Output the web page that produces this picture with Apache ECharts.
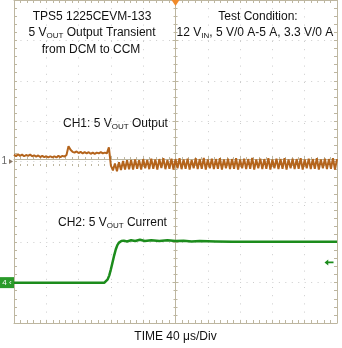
<!DOCTYPE html>
<html>
<head>
<meta charset="utf-8">
<script src="https://cdn.jsdelivr.net/npm/echarts@6/dist/echarts.min.js"></script>
<style>
html,body{margin:0;padding:0;background:#fff;}
#c{width:342px;height:348px;}
</style>
</head>
<body>
<div id="c"></div>
<script>
// Time axis: 0..400 us, 40 us/div ; vertical axis in divisions (-4..4)
const timeMin = 0, timeMax = 400, timeDiv = 40;
const divMin = -4, divMax = 4;

// CH1 (5 VOUT output, AC) sampled every 2.5 us, in divisions
const ch1Step = 2.5;
const ch1Values = [
 0.17,0.13,0.18,0.14,0.17,0.13,0.16,0.14,0.17,0.13,
 0.15,0.12,0.15,0.11,0.14,0.11,0.13,0.10,0.13,0.10,
 0.13,0.10,0.14,0.11,0.14,0.12,0.16,0.38,0.29,0.24,
 0.22,0.25,0.21,0.24,0.20,0.23,0.20,0.23,0.19,0.22,
 0.19,0.22,0.20,0.23,0.20,0.22,0.20,0.35,-0.10,-0.22,
 -0.05,-0.24,-0.02,-0.21,0.01,-0.20,0.03,-0.19,0.04,-0.20,
 0.05,-0.18,0.03,-0.20,0.06,-0.17,0.04,-0.19,0.07,-0.18,
 0.05,-0.20,0.06,-0.16,0.08,-0.19,0.04,-0.18,0.07,-0.20,
 0.06,-0.17,0.08,-0.19,0.05,-0.18,0.07,-0.20,0.04,-0.17,
 0.08,-0.19,0.06,-0.18,0.09,-0.20,0.05,-0.17,0.07,-0.19,
 0.06,-0.18,0.08,-0.20,0.05,-0.17,0.07,-0.19,0.06,-0.18,
 0.08,-0.20,0.05,-0.17,0.07,-0.19,0.06,-0.18,0.09,-0.20,
 0.05,-0.17,0.07,-0.19,0.06,-0.18,0.08,-0.20,0.05,-0.17,
 0.07,-0.19,0.06,-0.18,0.08,-0.20,0.05,-0.17,0.07,-0.19,
 0.06,-0.18,0.08,-0.20,0.05,-0.17,0.07,-0.19,0.06,-0.18,
 0.08,-0.20,0.05,-0.17,0.07,-0.19,0.06,-0.18,0.08,-0.20,
 0.06
];

// CH2 (5 VOUT current)
const ch2Time = [0,40,80,112,114,116,118,120,122,124,126,128,130,133,136,140,145,150,156,162,170,180,190,200,210,220,230,250,270,400];
const ch2Values = [-3.0,-3.0,-3.0,-3.0,-2.98,-2.92,-2.82,-2.67,-2.5,-2.33,-2.18,-2.07,-2.01,-1.97,-1.96,-1.98,-1.95,-1.97,-1.94,-1.97,-1.95,-1.97,-1.95,-1.97,-1.96,-1.98,-1.97,-1.98,-1.99,-1.99];

// reference markers
const ch1Ground = 0, ch2Ground = -3, ch2TrigLevel = -2.5, triggerTime = 200;

const frame = '#bdb6a0';
const gridDot = '#cccccc';
const c1 = '#b4641c';
const c2 = '#1c8c1c';
const font = '"Liberation Sans", Arial, sans-serif';

const ch1Data = ch1Values.map((v, i) => [i * ch1Step, v]);
const ch2Data = ch2Time.map((t, i) => [t, ch2Values[i]]);

function xAx(extra) {
  return Object.assign({
    type: 'value', min: timeMin, max: timeMax, interval: timeDiv,
    axisLabel: { show: false },
    axisLine: { show: true, onZero: false, lineStyle: { color: frame, width: 1 } },
    axisTick: { show: true, inside: true, length: 3, lineStyle: { color: frame } },
    minorTick: { show: true, splitNumber: 5, length: 3, lineStyle: { color: frame } },
    splitLine: { show: false }
  }, extra);
}
function yAx(extra) {
  return Object.assign({
    type: 'value', min: divMin, max: divMax, interval: 1,
    axisLabel: { show: false },
    axisLine: { show: true, onZero: false, lineStyle: { color: frame, width: 1 } },
    axisTick: { show: true, inside: true, length: 3, lineStyle: { color: frame } },
    minorTick: { show: true, splitNumber: 5, length: 3, lineStyle: { color: frame } },
    splitLine: { show: false }
  }, extra);
}

const chart = echarts.init(document.getElementById('c'), null, { renderer: 'canvas' });
chart.setOption({
  animation: false,
  backgroundColor: '#fff',
  grid: { left: 14, top: 0, width: 323, height: 328, containLabel: false },
  xAxis: [
    xAx({ position: 'bottom',
      name: 'TIME 40 μs/Div', nameLocation: 'middle', nameGap: 8,
      nameTextStyle: { color: '#111', fontSize: 12, fontFamily: font },
      splitLine: { show: true, lineStyle: { color: gridDot, type: [1, 7.2], width: 1 } } }),
    xAx({ position: 'top' }),
    xAx({ position: 'bottom', offset: -164, axisTick: { show: true, inside: true, length: 3, lineStyle: { color: frame } }, minorTick: { show: true, splitNumber: 5, length: 2, lineStyle: { color: frame } } }),
    xAx({ position: 'bottom', offset: -164, axisLine: { show: false }, axisTick: { show: true, inside: false, length: 3, lineStyle: { color: frame } }, minorTick: { show: true, splitNumber: 5, length: 2, lineStyle: { color: frame } } })
  ],
  yAxis: [
    yAx({ position: 'left',
      splitLine: { show: true, lineStyle: { color: gridDot, type: [1, 5.46], width: 1 } } }),
    yAx({ position: 'right' }),
    yAx({ position: 'left', offset: -161.5, axisTick: { show: true, inside: true, length: 3, lineStyle: { color: frame } }, minorTick: { show: true, splitNumber: 5, length: 2, lineStyle: { color: frame } } }),
    yAx({ position: 'left', offset: -161.5, axisLine: { show: false }, axisTick: { show: true, inside: false, length: 3, lineStyle: { color: frame } }, minorTick: { show: true, splitNumber: 5, length: 2, lineStyle: { color: frame } } })
  ],
  series: [
    {
      type: 'line', name: 'CH1', data: ch1Data, xAxisIndex: 0, yAxisIndex: 0,
      showSymbol: false, clip: false, z: 5,
      lineStyle: { color: c1, width: 2 },
      markPoint: {
        silent: true, animation: false,
        data: [
          { coord: [timeMin, ch1Ground], symbol: 'path://M0,0L10,5L0,10Z', symbolSize: [4, 5], symbolOffset: [-3, 0],
            itemStyle: { color: '#8a7a6a' },
            label: { show: true, formatter: '1', position: 'left', distance: 2, color: '#666', fontSize: 10, fontFamily: font } },
          { coord: [triggerTime, divMax], symbol: 'triangle', symbolRotate: 180, symbolSize: [8, 6], symbolOffset: [0, 3],
            itemStyle: { color: '#f08a2a' }, label: { show: false } }
        ]
      }
    },
    {
      type: 'line', name: 'CH2', data: ch2Data, xAxisIndex: 0, yAxisIndex: 0,
      showSymbol: false, clip: false, z: 5,
      lineStyle: { color: c2, width: 2.5 },
      markPoint: {
        silent: true, animation: false,
        data: [
          { coord: [timeMin, ch2Ground], symbol: 'rect', symbolSize: [14, 11], symbolOffset: [-7, 0],
            itemStyle: { color: '#2a9a2a' },
            label: { show: true, formatter: '4 ‹', position: 'inside', color: '#fff', fontSize: 8, fontFamily: font } },
          { coord: [timeMax, ch2TrigLevel], symbol: 'path://M0,5L5,0L5,3.5L12,3.5L12,6.5L5,6.5L5,10Z', symbolSize: [9, 6], symbolOffset: [-8, 0],
            itemStyle: { color: c2 }, label: { show: false } }
        ]
      }
    }
  ],
  graphic: [
    { type: 'text', x: 92, y: 17, style: { text: 'TPS5 1225CEVM-133', fill: '#111', font: '12px ' + font, textAlign: 'center', textVerticalAlign: 'middle' } },
    { type: 'text', x: 92, y: 33, style: { text: '5 V{s|OUT} Output Transient', fill: '#111', font: '12px ' + font, textAlign: 'center', textVerticalAlign: 'middle',
        rich: { s: { fontSize: 8, fontFamily: font, padding: [5, 0, 0, 0] } } } },
    { type: 'text', x: 91, y: 50, style: { text: 'from DCM to CCM', fill: '#111', font: '12px ' + font, textAlign: 'center', textVerticalAlign: 'middle' } },
    { type: 'text', x: 258, y: 17, style: { text: 'Test Condition:', fill: '#111', font: '12px ' + font, textAlign: 'center', textVerticalAlign: 'middle' } },
    { type: 'text', x: 255, y: 33, style: { text: '12 V{s|IN}, 5 V/0 A-5 A, 3.3 V/0 A', fill: '#111', font: '12px ' + font, textAlign: 'center', textVerticalAlign: 'middle',
        rich: { s: { fontSize: 8, fontFamily: font, padding: [5, 0, 0, 0] } } } },
    { type: 'text', x: 63, y: 124, style: { text: 'CH1: 5 V{s|OUT} Output', fill: '#111', font: '12px ' + font, textAlign: 'left', textVerticalAlign: 'middle',
        rich: { s: { fontSize: 8, fontFamily: font, padding: [5, 0, 0, 0] } } } },
    { type: 'text', x: 58, y: 223, style: { text: 'CH2: 5 V{s|OUT} Current', fill: '#111', font: '12px ' + font, textAlign: 'left', textVerticalAlign: 'middle',
        rich: { s: { fontSize: 8, fontFamily: font, padding: [5, 0, 0, 0] } } } }
  ]
});
</script>
</body>
</html>
